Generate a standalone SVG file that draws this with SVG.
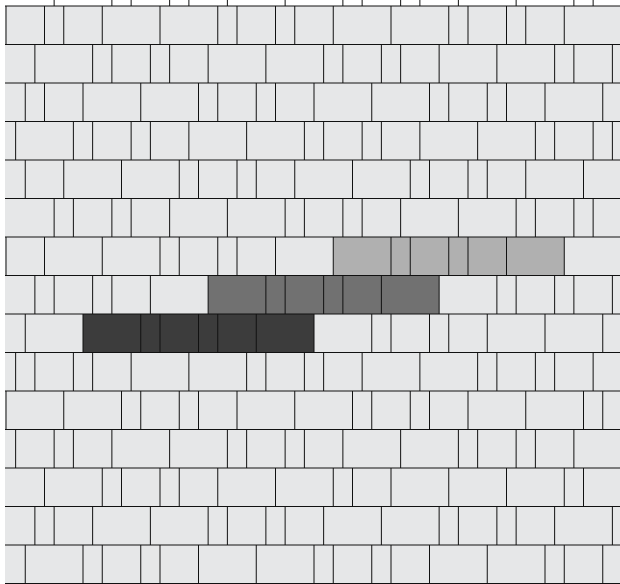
<svg xmlns="http://www.w3.org/2000/svg" width="620" height="584" viewBox="0 0 620 584">
<style>
.j{fill:none;stroke:#111;stroke-width:1}
</style>
<rect x="0" y="0" width="620" height="584" fill="#ffffff"/>
<rect x="5" y="6" width="615" height="578" fill="#e6e7e8"/>
<g id="highlights">
<rect x="333.25" y="237" width="231" height="38.5" fill="#b0b0b0"/>
<rect x="208.125" y="275.5" width="231" height="38.5" fill="#717171"/>
<rect x="83" y="314" width="231" height="38.5" fill="#3c3c3c"/>
</g>
<g id="courses" class="j">
<path d="M5 6H620M5 44.5H620M5 83H620M5 121.5H620M5 160H620M5 198.5H620M5 237H620M5 275.5H620M5 314H620M5 352.5H620M5 391H620M5 429.5H620M5 468H620M5 506.5H620M5 545H620M5 583.5H620"/>
<path d="M54.125 0v6M111.875 0v6M131.125 0v6M169.625 0v6M188.875 0v6M227.375 0v6M285.125 0v6M342.875 0v6M362.125 0v6M400.625 0v6M419.875 0v6M458.375 0v6M516.125 0v6M573.875 0v6M593.125 0v6"/>
<path d="M6 6v38.5M44.5 6v38.5M63.75 6v38.5M102.25 6v38.5M160 6v38.5M217.75 6v38.5M237 6v38.5M275.5 6v38.5M294.75 6v38.5M333.25 6v38.5M391 6v38.5M448.75 6v38.5M468 6v38.5M506.5 6v38.5M525.75 6v38.5M564.25 6v38.5"/>
<path d="M34.875 44.5v38.5M92.625 44.5v38.5M111.875 44.5v38.5M150.375 44.5v38.5M169.625 44.5v38.5M208.125 44.5v38.5M265.875 44.5v38.5M323.625 44.5v38.5M342.875 44.5v38.5M381.375 44.5v38.5M400.625 44.5v38.5M439.125 44.5v38.5M496.875 44.5v38.5M554.625 44.5v38.5M573.875 44.5v38.5M612.375 44.5v38.5"/>
<path d="M25.25 83v38.5M44.5 83v38.5M83 83v38.5M140.75 83v38.5M198.5 83v38.5M217.75 83v38.5M256.25 83v38.5M275.5 83v38.5M314 83v38.5M371.75 83v38.5M429.5 83v38.5M448.75 83v38.5M487.25 83v38.5M506.5 83v38.5M545 83v38.5M602.75 83v38.5"/>
<path d="M15.625 121.5v38.5M73.375 121.5v38.5M92.625 121.5v38.5M131.125 121.5v38.5M150.375 121.5v38.5M188.875 121.5v38.5M246.625 121.5v38.5M304.375 121.5v38.5M323.625 121.5v38.5M362.125 121.5v38.5M381.375 121.5v38.5M419.875 121.5v38.5M477.625 121.5v38.5M535.375 121.5v38.5M554.625 121.5v38.5M593.125 121.5v38.5M612.375 121.5v38.5"/>
<path d="M25.25 160v38.5M63.75 160v38.5M121.5 160v38.5M179.25 160v38.5M198.5 160v38.5M237 160v38.5M256.25 160v38.5M294.75 160v38.5M352.5 160v38.5M410.25 160v38.5M429.5 160v38.5M468 160v38.5M487.25 160v38.5M525.75 160v38.5M583.5 160v38.5"/>
<path d="M54.125 198.5v38.5M73.375 198.5v38.5M111.875 198.5v38.5M131.125 198.5v38.5M169.625 198.5v38.5M227.375 198.5v38.5M285.125 198.5v38.5M304.375 198.5v38.5M342.875 198.5v38.5M362.125 198.5v38.5M400.625 198.5v38.5M458.375 198.5v38.5M516.125 198.5v38.5M535.375 198.5v38.5M573.875 198.5v38.5M593.125 198.5v38.5"/>
<path d="M6 237v38.5M44.5 237v38.5M102.25 237v38.5M160 237v38.5M179.25 237v38.5M217.75 237v38.5M237 237v38.5M275.5 237v38.5M333.25 237v38.5M391 237v38.5M410.25 237v38.5M448.75 237v38.5M468 237v38.5M506.5 237v38.5M564.25 237v38.5"/>
<path d="M34.875 275.5v38.5M54.125 275.5v38.5M92.625 275.5v38.5M111.875 275.5v38.5M150.375 275.5v38.5M208.125 275.5v38.5M265.875 275.5v38.5M285.125 275.5v38.5M323.625 275.5v38.5M342.875 275.5v38.5M381.375 275.5v38.5M439.125 275.5v38.5M496.875 275.5v38.5M516.125 275.5v38.5M554.625 275.5v38.5M573.875 275.5v38.5M612.375 275.5v38.5"/>
<path d="M25.25 314v38.5M83 314v38.5M140.75 314v38.5M160 314v38.5M198.5 314v38.5M217.75 314v38.5M256.25 314v38.5M314 314v38.5M371.75 314v38.5M391 314v38.5M429.5 314v38.5M448.75 314v38.5M487.25 314v38.5M545 314v38.5M602.75 314v38.5"/>
<path d="M15.625 352.5v38.5M34.875 352.5v38.5M73.375 352.5v38.5M92.625 352.5v38.5M131.125 352.5v38.5M188.875 352.5v38.5M246.625 352.5v38.5M265.875 352.5v38.5M304.375 352.5v38.5M323.625 352.5v38.5M362.125 352.5v38.5M419.875 352.5v38.5M477.625 352.5v38.5M496.875 352.5v38.5M535.375 352.5v38.5M554.625 352.5v38.5M593.125 352.5v38.5"/>
<path d="M6 391v38.5M63.75 391v38.5M121.5 391v38.5M140.75 391v38.5M179.25 391v38.5M198.5 391v38.5M237 391v38.5M294.75 391v38.5M352.5 391v38.5M371.75 391v38.5M410.25 391v38.5M429.5 391v38.5M468 391v38.5M525.75 391v38.5M583.5 391v38.5M602.75 391v38.5"/>
<path d="M15.625 429.5v38.5M54.125 429.5v38.5M73.375 429.5v38.5M111.875 429.5v38.5M169.625 429.5v38.5M227.375 429.5v38.5M246.625 429.5v38.5M285.125 429.5v38.5M304.375 429.5v38.5M342.875 429.5v38.5M400.625 429.5v38.5M458.375 429.5v38.5M477.625 429.5v38.5M516.125 429.5v38.5M535.375 429.5v38.5M573.875 429.5v38.5"/>
<path d="M44.5 468v38.5M102.25 468v38.5M121.5 468v38.5M160 468v38.5M179.25 468v38.5M217.75 468v38.5M275.5 468v38.5M333.25 468v38.5M352.5 468v38.5M391 468v38.5M448.75 468v38.5M506.5 468v38.5M564.25 468v38.5M583.5 468v38.5"/>
<path d="M34.875 506.5v38.5M54.125 506.5v38.5M92.625 506.5v38.5M150.375 506.5v38.5M208.125 506.5v38.5M227.375 506.5v38.5M265.875 506.5v38.5M285.125 506.5v38.5M323.625 506.5v38.5M381.375 506.5v38.5M439.125 506.5v38.5M458.375 506.5v38.5M496.875 506.5v38.5M516.125 506.5v38.5M554.625 506.5v38.5M612.375 506.5v38.5"/>
<path d="M25.25 545v38.5M83 545v38.5M102.25 545v38.5M140.75 545v38.5M160 545v38.5M198.5 545v38.5M256.25 545v38.5M314 545v38.5M333.25 545v38.5M371.75 545v38.5M391 545v38.5M429.5 545v38.5M487.25 545v38.5M545 545v38.5M564.25 545v38.5M602.75 545v38.5"/>
</g>
</svg>
